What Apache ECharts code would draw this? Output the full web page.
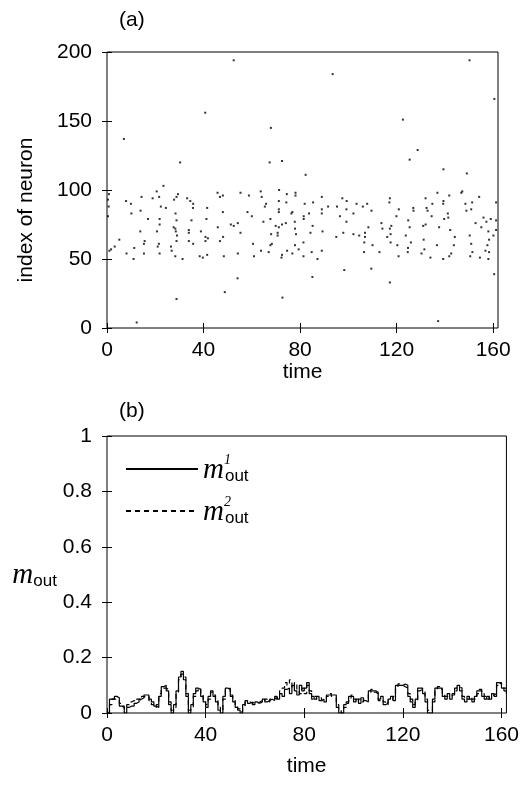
<!DOCTYPE html>
<html><head><meta charset="utf-8">
<script src="https://cdn.jsdelivr.net/npm/echarts@6/dist/echarts.min.js"></script>
<style>html,body{margin:0;padding:0;background:#fff}#c{width:522px;height:785px}</style>
</head><body><div id="c"></div>
<script>
// ---- panel (a): raster of spikes ----
const spikeTime = [
30.3,23.4,20.6,0.8,29.4,14.3,18.9,21.6,28.8,33.2,0.4,27.8,7.9,34.5,35.7,22.3,24.4,35.6,13.9,10.1,28.4,0.4,17,21.8,28.8,35,21.8,27.6,28.3,13.8,20.7,28.5,33.9,33.9,38.9,29,5.1,15.6,28.8,33.9,15.3,21.5,35.7,3.2,11.3,21,26.5,1.7,1,26.8,8.1,15.3,21.8,28.3,11,31.3,38.4,9.9,0.7,
67.4,72.5,45.8,55.3,63.7,71.3,46.8,48,58.8,64.1,74.5,78.1,78.1,71.2,74.3,65.9,65.4,41.5,71.2,48,58.2,71.2,76.8,76.4,60,41.2,67.7,64.8,74.1,77.8,54.2,51.3,52.5,72.5,69.9,71.2,45.9,77.9,55.3,70.7,68,78.3,70.7,40.8,41.8,48.1,46.8,40.8,60.5,68.3,67.7,77.9,63.8,67,74.6,79.4,41.5,54.2,72.5,76.8,48.4,60.9,72.3,39.7,54.1,
82.3,89,97.5,99.3,117.2,81.9,85.4,103.4,106,107.8,117,91.6,95.3,89,99.2,109.6,120.9,83.7,89,102.1,81.5,96.5,119.9,81.5,99.2,113.7,85.2,108.3,117.8,114.1,117.2,89.3,84.3,97.9,102.1,106.9,117.5,104.5,106.9,95,116.1,81.4,106.6,117.5,110,120.3,89,84.8,106.5,112.9,81.4,87.2,120.8,98.3,109.5,85.1,117.2,
139.4,149.1,136.9,141.8,147.2,146.8,154.2,132,139.4,139.3,134.8,148.5,151.3,161.2,126.9,132.4,127,132.8,148.9,150.9,141.2,134.5,141.4,139.7,124.8,156,159,157.2,152.7,161.2,132,131,137.6,155.1,125.4,142.2,158,161.2,160.1,123.8,150.3,144.1,131.2,158.3,125.9,150.9,136.7,143.7,157.6,124.7,131.5,151.4,156.8,158.3,124.6,130.3,142.6,134,139.3,141.8,150.5,154.5,158,160.4,
52.5,40.7,7,67.9,150.2,93.5,160.5,122.6,128.7,125.4,48.8,28.8,72.7,12.3,137.2
];
const spikeNeuron = [
120,103,99,97,97,95,94,95,95,94,93,93,92,92,90,88,87,87,85,83,83,81,79,79,78,78,75,73,72,70,70,70,71,69,70,67,64,63,63,63,61,61,61,59,58,59,59,57,56,56,54,54,54,52,50,50,52,90,88,
120,121,98,98,99,100,95,96,96,95,97,98,96,92,91,90,88,87,86,84,84,84,84,83,81,79,79,77,76,77,76,75,74,75,74,73,73,72,69,69,68,68,67,66,65,66,63,63,61,61,60,60,56,55,56,57,53,54,53,54,52,52,51,51,36,
111,95,94,92,94,90,91,90,88,90,91,88,88,86,86,85,86,83,83,83,81,81,81,79,77,76,74,73,74,72,72,70,69,69,68,69,68,67,66,66,66,62,62,62,60,60,56,55,55,55,52,50,52,42,43,37,33,
115,112,98,96,99,98,95,94,92,90,90,90,91,91,87,87,85,85,85,86,83,81,80,79,78,80,79,77,76,78,75,74,73,73,73,71,70,71,67,67,67,66,64,64,62,61,60,60,60,58,57,55,56,55,55,54,54,51,50,52,52,51,50,39,
194,156,137,145,194,184,166,151,129,122,26,21,22,4,5
];

// ---- panel (b): output activity, one value per time unit (t = 0..162) ----
const dt = 1;
const m1 = [
0,0.05,0.05,0.06,0.055,0.025,0.02,0,0.02,0.025,
0.025,0.035,0.04,0.05,0.055,0.065,0.065,0.05,0.04,0.025,
0.02,0.06,0.095,0.1,0.08,0.03,0,0.03,0.08,0.13,
0.15,0.12,0.06,0,0.03,0.07,0.09,0.085,0.06,0.04,
0.02,0.06,0.08,0.06,0.04,0.01,0,0.06,0.09,0.085,
0.06,0.04,0.02,0.01,0,0.03,0.045,0.035,0.04,0.03,
0.04,0.035,0.04,0.05,0.04,0.045,0.05,0.045,0.06,0.05,
0.07,0.06,0.085,0.09,0.07,0.1,0.08,0.065,0.1,0.08,
0.09,0.11,0.07,0.06,0.05,0.06,0.045,0.05,0.04,0.065,
0.065,0.065,0.065,0.02,0,0,0.03,0.04,0.06,0.06,
0.04,0.05,0.035,0.055,0.045,0.04,0.08,0.08,0.08,0.075,
0.05,0.06,0.03,0.035,0.05,0.06,0.045,0.1,0.1,0.1,
0.105,0.1,0.06,0.05,0.02,0.05,0.09,0.09,0.07,0.04,
0,0,0.05,0.09,0.09,0.09,0.06,0.05,0.07,0.05,
0.065,0.09,0.1,0.08,0.05,0.04,0.06,0.05,0.04,0.06,
0.08,0.08,0.06,0.05,0.06,0.05,0.07,0.06,0.11,0.105,
0.09,0.08,0.07
];
const m2 = [
0,0.03,0.05,0.05,0.05,0.035,0.025,0.015,0.03,0.04,
0.045,0.04,0.05,0.045,0.06,0.055,0.06,0.045,0.03,0.02,
0.03,0.07,0.09,0.09,0.085,0.04,0.01,0.02,0.07,0.12,
0.14,0.13,0.07,0.01,0.02,0.06,0.08,0.09,0.07,0.05,
0.03,0.05,0.075,0.065,0.045,0.02,0.005,0.05,0.085,0.09,
0.065,0.045,0.03,0.015,0.005,0.02,0.04,0.04,0.035,0.04,
0.035,0.04,0.045,0.04,0.05,0.04,0.05,0.055,0.05,0.065,
0.08,0.09,0.11,0.1,0.12,0.09,0.11,0.08,0.07,0.09,
0.07,0.1,0.08,0.05,0.06,0.05,0.055,0.045,0.05,0.06,
0.07,0.06,0.055,0.03,0.01,0,0.02,0.035,0.05,0.065,
0.05,0.04,0.05,0.04,0.05,0.05,0.07,0.085,0.075,0.07,
0.045,0.05,0.04,0.03,0.045,0.05,0.06,0.09,0.105,0.1,
0.095,0.09,0.07,0.04,0.03,0.04,0.08,0.085,0.08,0.05,
0.01,0.005,0.04,0.08,0.095,0.085,0.07,0.06,0.06,0.06,
0.07,0.08,0.095,0.09,0.06,0.05,0.05,0.06,0.05,0.05,
0.07,0.085,0.07,0.06,0.05,0.06,0.065,0.07,0.1,0.11,
0.1,0.09,0.08
];

const xTicks = [0, 40, 80, 120, 160];
const yTicksA = [0, 50, 100, 150, 200];
const yTicksB = [0, 0.2, 0.4, 0.6, 0.8, 1];
const seriesNames = ['m1', 'm2'];
const supers = { m1: '1', m2: '2' };

const FONT = 'Liberation Sans';
const FS = 21;

function xAxisDef(grid, pos, name, gap) {
  return {
    type: 'value', gridIndex: grid, position: pos, min: 0, max: 162,
    axisLine: { show: false },
    axisTick: { show: true, inside: true, length: 5, customValues: xTicks, lineStyle: { color: '#000', width: 1 } },
    axisLabel: { show: pos === 'bottom', customValues: xTicks, color: '#000', fontFamily: FONT, fontSize: FS, margin: 12 },
    splitLine: { show: false },
    name: name, nameLocation: 'middle', nameGap: gap,
    nameTextStyle: { color: '#000', fontFamily: FONT, fontSize: FS }
  };
}
function yAxisDef(grid, pos, max, ticks) {
  return {
    type: 'value', gridIndex: grid, position: pos, min: 0, max: max,
    axisLine: { show: false },
    axisTick: { show: true, inside: true, length: 5, customValues: ticks, lineStyle: { color: '#000', width: 1 } },
    axisLabel: { show: pos === 'left', customValues: ticks, color: '#000', fontFamily: FONT, fontSize: FS, margin: 15 },
    splitLine: { show: false }
  };
}

const yA = yAxisDef(0, 'left', 200, yTicksA);
yA.name = 'index of neuron';
yA.nameLocation = 'middle';
yA.nameRotate = 90;
yA.nameGap = 70;
yA.nameTextStyle = { color: '#000', fontFamily: FONT, fontSize: FS, padding: [0, 40, 0, 0] };

const yB = yAxisDef(1, 'left', 1, yTicksB);
yB.name = '{m|m}{s|out}';
yB.nameLocation = 'middle';
yB.nameRotate = 0;
yB.nameGap = 47;
yB.nameTextStyle = {
  rich: {
    m: { fontFamily: 'Liberation Serif', fontStyle: 'italic', fontSize: 29, color: '#000', verticalAlign: 'bottom', lineHeight: 30 },
    s: { fontFamily: FONT, fontSize: 17, color: '#000', verticalAlign: 'bottom', lineHeight: 20 }
  }
};

const option = {
  animation: false,
  backgroundColor: '#fff',
  title: [
    { text: '(a)', left: 114, top: 5, textStyle: { fontFamily: FONT, fontSize: FS, fontWeight: 'normal', color: '#000' } },
    { text: '(b)', left: 114, top: 396, textStyle: { fontFamily: FONT, fontSize: FS, fontWeight: 'normal', color: '#000' } }
  ],
  grid: [
    { left: 107, top: 52, width: 391, height: 276, show: true, borderColor: '#000', borderWidth: 1, backgroundColor: 'transparent' },
    { left: 107, top: 436, width: 400, height: 277, show: true, borderColor: '#000', borderWidth: 1, backgroundColor: 'transparent' }
  ],
  xAxis: [
    xAxisDef(0, 'bottom', 'time', 21),
    xAxisDef(0, 'top', '', 0),
    xAxisDef(1, 'bottom', 'time', 43),
    xAxisDef(1, 'top', '', 0)
  ],
  yAxis: [
    yA,
    yAxisDef(0, 'right', 200, yTicksA),
    yB,
    yAxisDef(1, 'right', 1, yTicksB)
  ],
  legend: {
    orient: 'vertical', left: 125, top: 453, padding: 0,
    itemWidth: 72, itemHeight: 14, itemGap: 10,
    data: seriesNames,
    itemStyle: { opacity: 0 },
    formatter: function (n) { return '{m|m}{sup|' + supers[n] + '}{s|out}'; },
    textStyle: {
      rich: {
        m: { fontFamily: 'Liberation Serif', fontStyle: 'italic', fontSize: 29, color: '#000', verticalAlign: 'bottom', lineHeight: 32 },
        sup: { fontFamily: 'Liberation Serif', fontStyle: 'italic', fontSize: 14, color: '#000', verticalAlign: 'top', lineHeight: 14, width: 1, align: 'left' },
        s: { fontFamily: FONT, fontSize: 17, color: '#000', verticalAlign: 'bottom', lineHeight: 20 }
      }
    }
  },
  series: [
    {
      type: 'scatter', xAxisIndex: 0, yAxisIndex: 0,
      data: spikeTime.map(function (t, i) { return [t, spikeNeuron[i]]; }),
      symbol: 'rect', symbolSize: 2, itemStyle: { color: '#000' }, silent: true
    },
    {
      name: 'm1', type: 'line', xAxisIndex: 2, yAxisIndex: 2, step: 'end',
      symbol: 'none', showSymbol: false,
      data: m1.map(function (v, i) { return [i * dt, v]; }),
      lineStyle: { color: '#000', width: 1.2, type: 'solid' }, itemStyle: { color: '#000' }
    },
    {
      name: 'm2', type: 'line', xAxisIndex: 2, yAxisIndex: 2, step: 'end',
      symbol: 'none', showSymbol: false,
      data: m2.map(function (v, i) { return [i * dt, v]; }),
      lineStyle: { color: '#000', width: 1.2, type: [5, 4] }, itemStyle: { color: '#000' }
    }
  ]
};

const chart = echarts.init(document.getElementById('c'), null, { renderer: 'canvas' });
chart.setOption(option);
</script>
</body></html>
